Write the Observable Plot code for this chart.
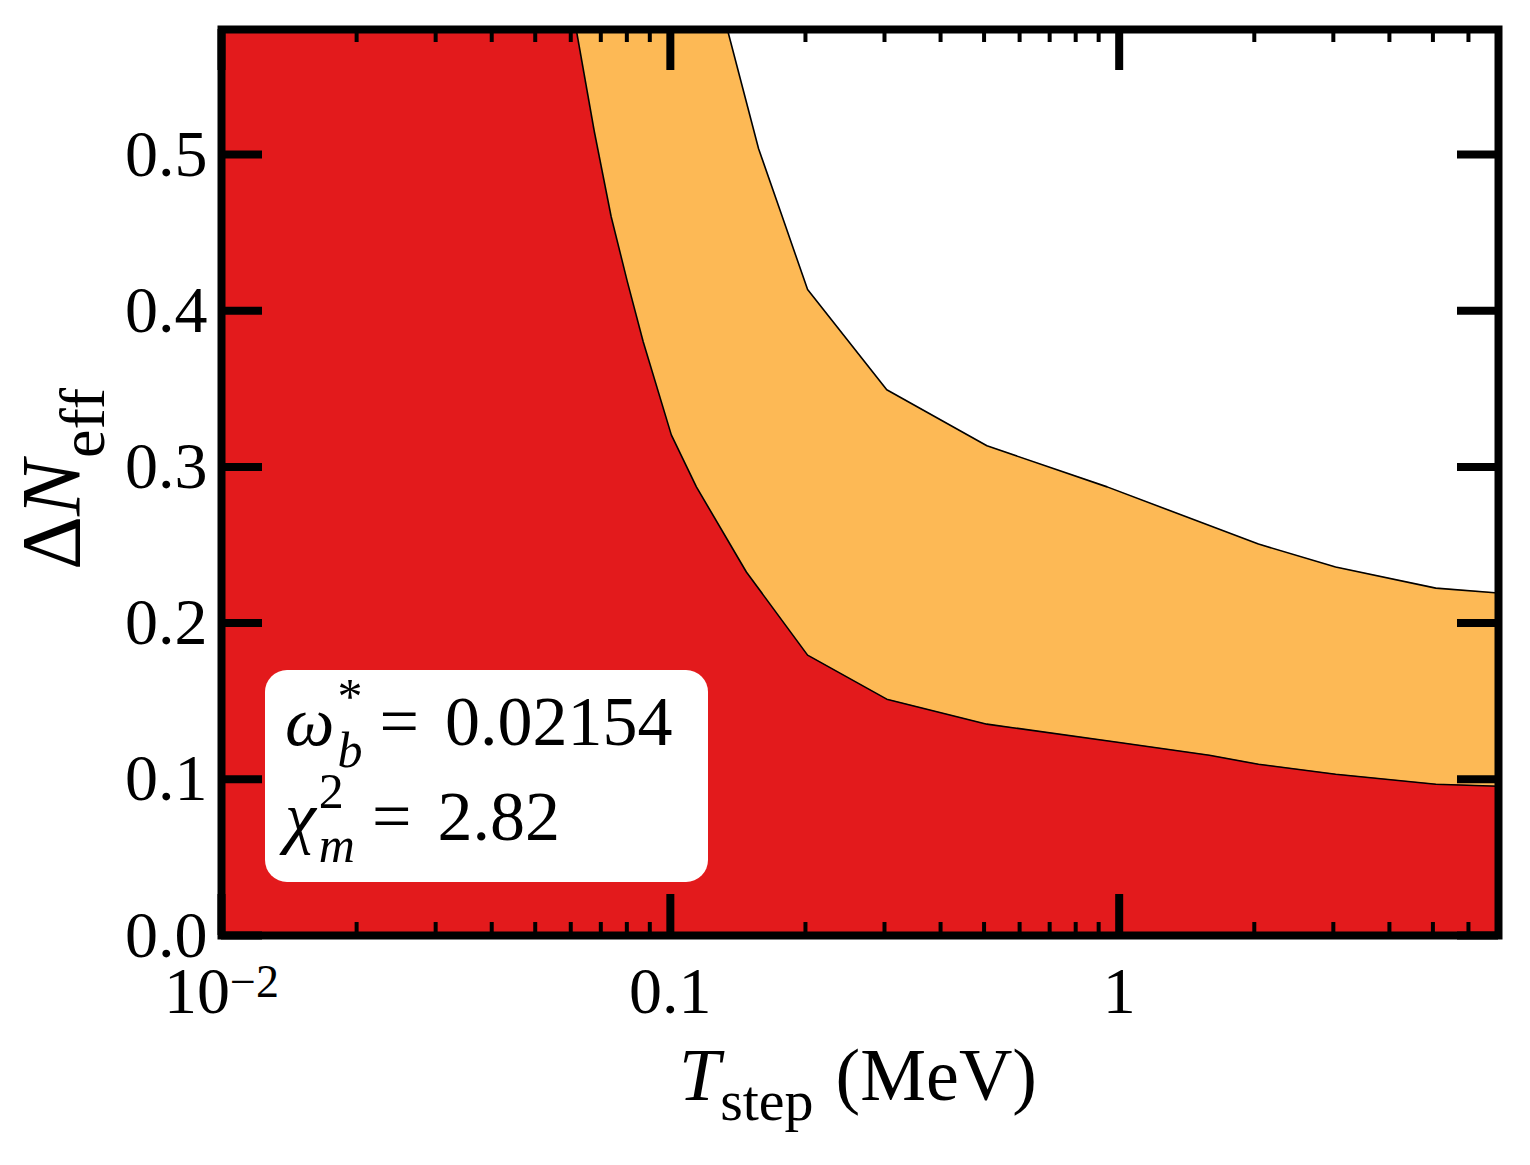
<!DOCTYPE html>
<html><head><meta charset="utf-8">
<script src="https://cdn.jsdelivr.net/npm/d3@7"></script>
<script src="https://cdn.jsdelivr.net/npm/@observablehq/plot@0.6"></script>
<style>body{margin:0;background:#fff}</style>
</head><body><div id="chart"></div>
<script>
// ---- data ----
const xDomain = [0.01, 7];
const yDomain = [0, 0.58];
// red region boundary
const redT = [0.0617, 0.0677, 0.0738, 0.0802, 0.0870, 0.1005, 0.1143, 0.1477, 0.2022, 0.3035, 0.5074, 1.0, 1.588, 2.043, 3.035, 5.074, 7.0];
const redN = [0.58, 0.5147, 0.4603, 0.4186, 0.3801, 0.3205, 0.2872, 0.2327, 0.1795, 0.1513, 0.1353, 0.1236, 0.1154, 0.1096, 0.1032, 0.0968, 0.0955];
// orange region boundary
const orangeT = [0.134, 0.1572, 0.1769, 0.2022, 0.3035, 0.5074, 0.94, 2.043, 3.035, 5.074, 7.0];
const orangeN = [0.58, 0.5038, 0.4615, 0.4135, 0.3494, 0.3135, 0.2872, 0.2506, 0.2359, 0.2224, 0.2192];
const xMajor = [0.01, 0.1, 1];
const xTickLabels = ["10", "0.1", "1"];
const xMinor = [0.02,0.03,0.04,0.05,0.06,0.07,0.08,0.09,0.2,0.3,0.4,0.5,0.6,0.7,0.8,0.9,2,3,4,5,6,7];
const yMajor = [0, 0.1, 0.2, 0.3, 0.4, 0.5];
const yTickLabels = ["0.0", "0.1", "0.2", "0.3", "0.4", "0.5"];

// ---- layout ----
const W = 1530, H = 1165, mL = 221, mR = 32, mT = 29, mB = 230;
const fw = W - mL - mR, fh = H - mT - mB;
const RED = "#e31a1c", ORANGE = "#fdb955";
const FONT = "'Liberation Serif', 'DejaVu Serif', serif";

const red = redT.map((t, i) => ({t, n: redN[i]}));
const orange = orangeT.map((t, i) => ({t, n: orangeN[i]}));
const redArea = [{t: xDomain[0], n: yDomain[1]}, ...red];
const orangeArea = [{t: xDomain[0], n: yDomain[1]}, ...orange];

const plot = Plot.plot({
  width: W, height: H,
  marginLeft: mL, marginRight: mR, marginTop: mT, marginBottom: mB,
  style: {fontFamily: FONT, background: "white", color: "black"},
  x: {type: "log", domain: xDomain},
  y: {domain: yDomain},
  marks: [
    Plot.areaY(orangeArea, {x: "t", y: "n", fill: ORANGE, clip: true}),
    Plot.line(orange, {x: "t", y: "n", stroke: "black", strokeWidth: 1.6, clip: true}),
    Plot.areaY(redArea, {x: "t", y: "n", fill: RED, clip: true}),
    Plot.line(red, {x: "t", y: "n", stroke: "black", strokeWidth: 1.6, clip: true}),
    Plot.tickX(xMajor, {x: d => d, stroke: "black", strokeWidth: 8, insetBottom: fh - 41}),
    Plot.tickX(xMajor, {x: d => d, stroke: "black", strokeWidth: 8, insetTop: fh - 41}),
    Plot.tickX(xMinor, {x: d => d, stroke: "black", strokeWidth: 4, insetBottom: fh - 13}),
    Plot.tickX(xMinor, {x: d => d, stroke: "black", strokeWidth: 4, insetTop: fh - 13}),
    Plot.tickY(yMajor, {y: d => d, stroke: "black", strokeWidth: 8, insetRight: fw - 41}),
    Plot.tickY(yMajor, {y: d => d, stroke: "black", strokeWidth: 8, insetLeft: fw - 41}),
    Plot.axisX({ticks: xMajor, tickFormat: d => xTickLabels[xMajor.indexOf(d)], tickSize: 0, tickPadding: 31, fontSize: 66, label: null}),
    Plot.axisY({ticks: yMajor, tickFormat: d => yTickLabels[yMajor.indexOf(d)], tickSize: 0, tickPadding: 14, fontSize: 66, label: null}),
    Plot.frame({stroke: "black", strokeWidth: 8})
  ]
});
document.getElementById("chart").appendChild(plot);

const svg = d3.select(plot);
svg.style("font-family", FONT);

// superscript for 10^-2
svg.selectAll('g[aria-label="x-axis tick label"] text').each(function() {
  const t = d3.select(this);
  if (t.text() === "10") {
    t.append("tspan").attr("dy", "-0.36em").attr("font-size", "46px").text("\u22122");
  }
});

// x label
const xl = svg.append("text").attr("x", 858).attr("y", 1100)
  .attr("text-anchor", "middle").attr("font-size", 74).attr("fill", "black");
xl.append("tspan").attr("font-style", "italic").text("T");
xl.append("tspan").attr("dy", 20).attr("font-size", 58).text("step");
xl.append("tspan").attr("dy", -20).attr("dx", 22).text("(MeV)");

// y label
const yl = svg.append("g").attr("transform", `translate(80,${mT + fh / 2 - 3}) rotate(-90)`)
  .append("text").attr("text-anchor", "middle").attr("font-size", 84).attr("fill", "black");
yl.append("tspan").text("\u0394");
yl.append("tspan").attr("font-style", "italic").text("N");
yl.append("tspan").attr("dy", 24).attr("dx", 2).attr("font-size", 64).text("eff");

// annotation box
const box = svg.append("g").attr("text-anchor", "start").attr("fill", "black");
box.append("rect").attr("x", 265).attr("y", 670).attr("width", 443).attr("height", 212)
  .attr("rx", 22).attr("fill", "white");
function mathLine(x, y, base, sup, sub, rest) {
  const fs = 70, sfs = 50;
  const b = box.append("text").attr("x", x).attr("y", y).attr("font-size", fs)
    .attr("font-style", "italic").text(base);
  const bw = b.node().getComputedTextLength();
  const s1 = box.append("text").attr("x", x + bw + 3).attr("y", y - 32).attr("font-size", sfs).text(sup);
  const s2 = box.append("text").attr("x", x + bw + 3).attr("y", y + 22).attr("font-size", sfs)
    .attr("font-style", "italic").text(sub);
  const w = Math.max(s1.node().getComputedTextLength(), s2.node().getComputedTextLength());
  const ex = x + bw + w + 20;
  const eq = box.append("text").attr("x", ex).attr("y", y).attr("font-size", fs).text("=");
  const ew = eq.node().getComputedTextLength();
  box.append("text").attr("x", ex + ew + 26).attr("y", y).attr("font-size", fs).text(rest);
}
mathLine(285, 745, "\u03C9", "*", "b", "0.02154");
mathLine(285, 840, "\u03C7", "2", "m", "2.82");
</script>
</body></html>
